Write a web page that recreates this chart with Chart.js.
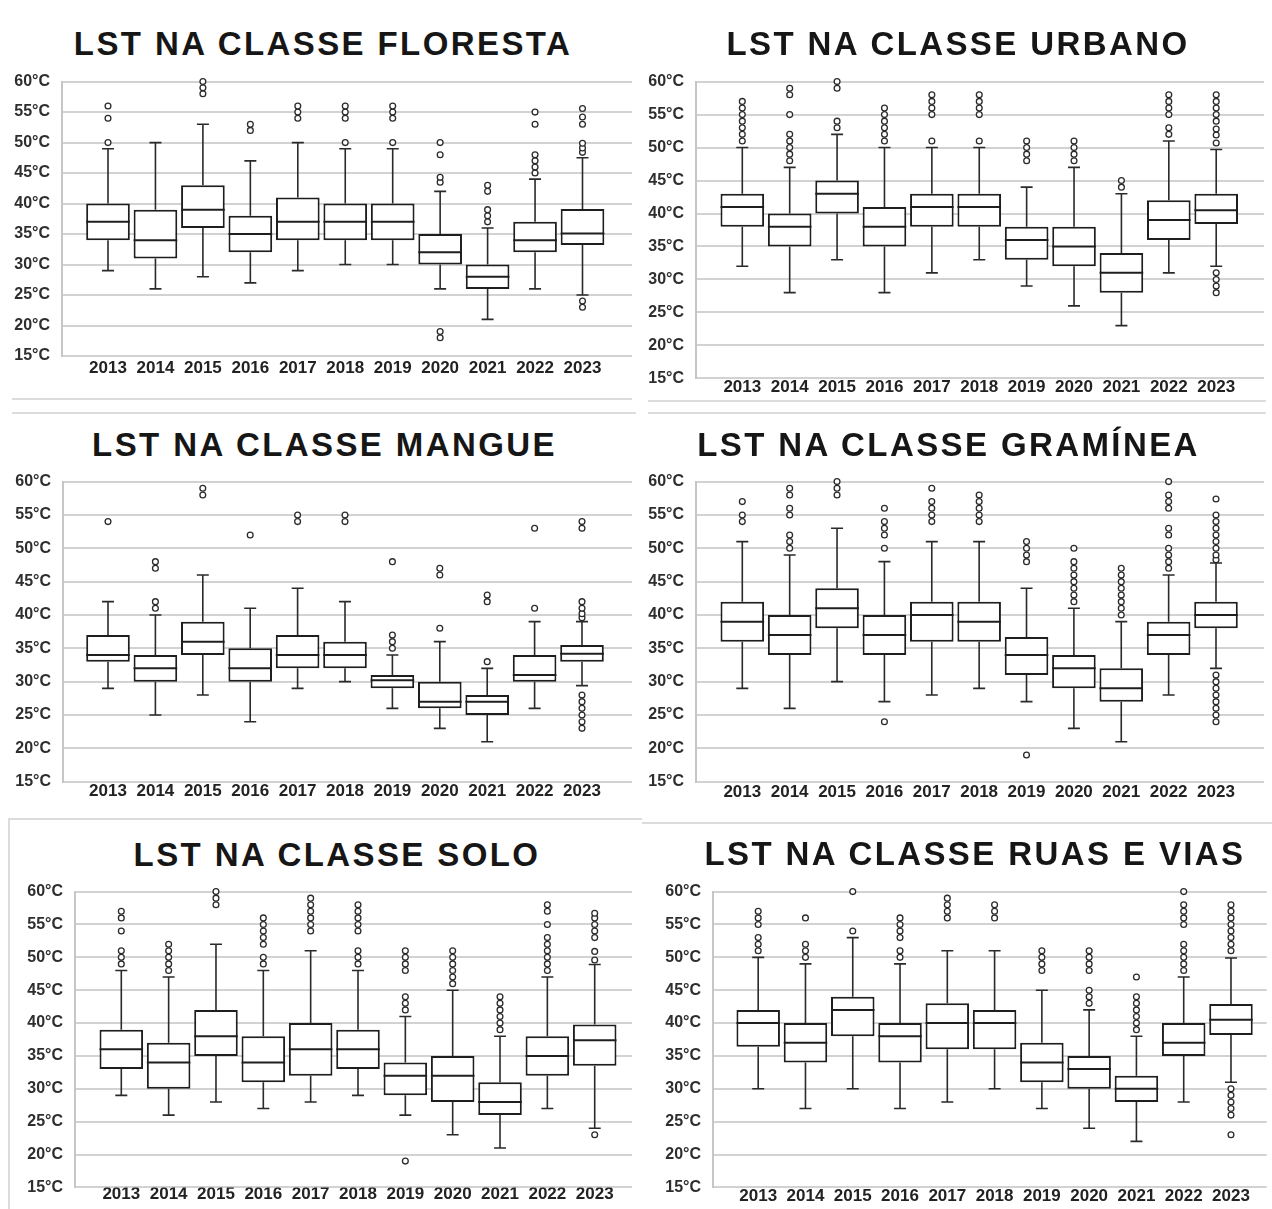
<!DOCTYPE html>
<html>
<head>
<meta charset="utf-8">
<script src="https://cdn.jsdelivr.net/npm/chart.js@4.4.1/dist/chart.umd.min.js"></script>
<style>
  html, body { margin: 0; padding: 0; background: #fff; }
  #page { position: relative; width: 1272px; height: 1209px; overflow: hidden; background: #fff; }
  .title {
    position: absolute; width: 700px; text-align: center;
    font: bold 33px "Liberation Sans", Arial, sans-serif;
    letter-spacing: 2.4px; line-height: 34px; color: #161616; white-space: nowrap;
  }
  .panel { position: absolute; }
  .rule { position: absolute; background: #dcdcdc; }
</style>
</head>
<body>
<div id="page"></div>
<script>
// Years on the horizontal axis
const years = ['2013', '2014', '2015', '2016', '2017', '2018', '2019', '2020', '2021', '2022', '2023'];

// Floresta
const florestaMin = [29, 26, 28, 27, 29, 30, 30, 26, 21, 26, 25];
const florestaQ1  = [34, 31, 36, 32, 34, 34, 34, 30, 26, 32, 33.2];
const florestaMed = [37, 34, 39, 35, 37, 37, 37, 32, 28, 34, 35.1];
const florestaQ3  = [40, 39, 43, 38, 41, 40, 40, 35, 30, 37, 39.1];
const florestaMax = [49, 50, 53, 47, 50, 49, 49, 42, 36, 44, 47.5];
const florestaOut = [
  [50, 54, 56], [], [58, 59, 60], [52, 53], [54, 55, 56], [50, 54, 55, 56], [50, 54, 55, 56],
  [18, 19, 43.5, 44.3, 48, 50], [37, 38, 39, 42, 43], [45, 46, 47, 48, 53, 55],
  [23, 24, 48.4, 49.1, 49.9, 53, 54.2, 55.6]
];

// Urbano
const urbanoMin = [32, 28, 33, 28, 31, 33, 29, 26, 23, 31, 32];
const urbanoQ1  = [38, 35, 40, 35, 38, 38, 33, 32, 28, 36, 38.4];
const urbanoMed = [41, 38, 43, 38, 41, 41, 36, 35, 31, 39, 40.5];
const urbanoQ3  = [43, 40, 45, 41, 43, 43, 38, 38, 34, 42, 43];
const urbanoMax = [50, 47, 52, 50, 50, 50, 44, 47, 43, 51, 49.7];
const urbanoOut = [
  [51, 52, 53, 54, 55, 56, 57], [48, 49, 50, 51, 52, 55, 58, 59], [53, 54, 59, 60],
  [51, 52, 53, 54, 55, 56], [51, 55, 56, 57, 58], [51, 55, 56, 57, 58], [48, 49, 50, 51],
  [48, 49, 50, 51], [44, 45], [52, 53, 55, 56, 57, 58],
  [28, 29, 30, 31, 50.7, 51.9, 52.8, 54, 55, 56, 57, 58]
];

// Mangue
const mangueMin = [29, 25, 28, 24, 29, 30, 26, 23, 21, 26, 29.4];
const mangueQ1  = [33, 30, 34, 30, 32, 32, 29, 26, 25, 30, 33];
const mangueMed = [34, 32, 36, 32, 34, 34, 30.2, 27, 27, 31, 34.2];
const mangueQ3  = [37, 34, 39, 35, 37, 36, 31, 30, 28, 34, 35.5];
const mangueMax = [42, 40, 46, 41, 44, 42, 34, 36, 32, 39, 39];
const mangueOut = [
  [54], [41, 42, 47, 48], [58, 59], [52], [54, 55], [54, 55], [35, 36, 37, 48],
  [38, 46, 47], [33, 42, 43], [41, 53],
  [23, 24, 25, 26, 27, 28, 39.6, 40.2, 41, 42, 53, 54]
];

// Gramínea
const gramineaMin = [29, 26, 30, 27, 28, 29, 27, 23, 21, 28, 32];
const gramineaQ1  = [36, 34, 38, 34, 36, 36, 31, 29, 27, 34, 38];
const gramineaMed = [39, 37, 41, 37, 40, 39, 34, 32, 29, 37, 40];
const gramineaQ3  = [42, 40, 44, 40, 42, 42, 36.7, 34, 32, 39, 42];
const gramineaMax = [51, 49, 53, 48, 51, 51, 44, 41, 39, 46, 47.8];
const gramineaOut = [
  [54, 55, 57], [50, 51, 52, 55, 56, 58, 59], [58, 59, 60], [24, 50, 52, 53, 54, 56],
  [54, 55, 56, 57, 59], [54, 55, 56, 57, 58], [19, 48, 49, 50, 51],
  [42, 43, 44, 45, 46, 47, 48, 50], [40, 41, 42, 43, 44, 45, 46, 47],
  [47, 48, 49, 50, 52, 53, 56, 57, 58, 60],
  [24, 25, 26, 27, 28, 29, 30, 31, 48.3, 49, 50, 51, 52, 53, 54, 55, 57.4]
];

// Solo
const soloMin = [29, 26, 28, 27, 28, 29, 26, 23, 21, 27, 24];
const soloQ1  = [33, 30, 35, 31, 32, 33, 29, 28, 26, 32, 33.5];
const soloMed = [36, 34, 38, 34, 36, 36, 32, 32, 28, 35, 37.4];
const soloQ3  = [39, 37, 42, 38, 40, 39, 34, 35, 31, 38, 39.8];
const soloMax = [48, 47, 52, 48, 51, 48, 41, 45, 38, 47, 48.9];
const soloOut = [
  [49, 50, 51, 54, 56, 57], [48, 49, 50, 51, 52], [58, 59, 60], [49, 50, 52, 53, 54, 55, 56],
  [54, 55, 56, 57, 58, 59], [49, 50, 51, 54, 55, 56, 57, 58], [19, 42, 43, 44, 48, 49, 50, 51],
  [46, 47, 48, 49, 50, 51], [39, 40, 41, 42, 43, 44], [48, 49, 50, 51, 52, 53, 55, 57, 58],
  [23, 49.6, 50.9, 53, 54, 55, 56, 56.7]
];

// Ruas e vias
const ruasMin = [30, 27, 30, 27, 28, 30, 27, 24, 22, 28, 31];
const ruasQ1  = [36.4, 34, 38, 34, 36, 36, 31, 30, 28, 35, 38.2];
const ruasMed = [40, 37, 42, 38, 40, 40, 34, 33, 30, 37, 40.5];
const ruasQ3  = [42, 40, 44, 40, 43, 42, 37, 35, 32, 40, 42.9];
const ruasMax = [50, 49, 53, 49, 51, 51, 45, 42, 38, 47, 49.9];
const ruasOut = [
  [51, 52, 53, 55, 56, 57], [50, 51, 52, 56], [54, 60], [50, 51, 53, 54, 55, 56],
  [56, 57, 58, 59], [56, 57, 58], [48, 49, 50, 51], [43, 44, 45, 48, 49, 50, 51],
  [39, 40, 41, 42, 43, 44, 47], [48, 49, 50, 51, 52, 55, 56, 57, 58, 60],
  [23, 26, 27, 28, 29, 30, 51, 52, 53, 54, 55, 56, 57, 58]
];

// Temperature axis ticks
const tempMin = 15, tempMax = 60, tempStep = 5;

const FONT = '"Liberation Sans", Arial, sans-serif';

// Whiskers (under the boxes) and medians (over the boxes)
function boxPlotPlugin(st) {
  return {
    id: 'boxWhiskers',
    beforeDatasetsDraw(chart) {
      const { ctx } = chart;
      const xs = chart.scales.x, ys = chart.scales.y;
      ctx.save();
      ctx.strokeStyle = '#2a2a2a';
      ctx.lineWidth = 1.6;
      st.min.forEach((_, i) => {
        const x = xs.getPixelForValue(i);
        const yMin = ys.getPixelForValue(st.min[i]);
        const yMax = ys.getPixelForValue(st.max[i]);
        const yQ1 = ys.getPixelForValue(st.q1[i]);
        const yQ3 = ys.getPixelForValue(st.q3[i]);
        ctx.beginPath();
        ctx.moveTo(x, yQ3); ctx.lineTo(x, yMax);
        ctx.moveTo(x, yQ1); ctx.lineTo(x, yMin);
        ctx.moveTo(x - 6, yMax); ctx.lineTo(x + 6, yMax);
        ctx.moveTo(x - 6, yMin); ctx.lineTo(x + 6, yMin);
        ctx.stroke();
      });
      ctx.restore();
    },
    afterDatasetsDraw(chart) {
      const { ctx } = chart;
      const ys = chart.scales.y;
      const bars = chart.getDatasetMeta(0).data;
      ctx.save();
      ctx.strokeStyle = '#1e1e1e';
      ctx.lineWidth = 2;
      bars.forEach((el, i) => {
        const y = ys.getPixelForValue(st.med[i]);
        ctx.beginPath();
        ctx.moveTo(el.x - el.width / 2, y);
        ctx.lineTo(el.x + el.width / 2, y);
        ctx.stroke();
      });
      ctx.restore();
    }
  };
}

function addRule(x, y, w, h) {
  const r = document.createElement('div');
  r.className = 'rule';
  r.style.left = x + 'px'; r.style.top = y + 'px';
  r.style.width = w + 'px'; r.style.height = h + 'px';
  document.getElementById('page').appendChild(r);
}

function drawPanel(p) {
  const page = document.getElementById('page');
  const t = document.createElement('div');
  t.className = 'title';
  t.textContent = p.title;
  t.style.left = (p.cx - 350 + 1) + 'px';
  t.style.top = (p.cy - 17) + 'px';
  page.appendChild(t);

  const [bx, by, bw, bh] = p.box;
  const wrap = document.createElement('div');
  wrap.className = 'panel';
  wrap.style.left = bx + 'px';
  wrap.style.top = by + 'px';
  wrap.style.width = bw + 'px';
  wrap.style.height = bh + 'px';
  const cv = document.createElement('canvas');
  cv.width = bw; cv.height = bh;
  cv.style.width = bw + 'px'; cv.style.height = bh + 'px';
  wrap.appendChild(cv);
  page.appendChild(wrap);

  const st = p.stats;
  const step = (p.c10 - p.c0) / 10;
  const xMin = -(p.c0 - p.axisLeft) / step;
  const xMax = 10 + (p.plotRight - p.c10) / step;

  const outliers = [];
  st.out.forEach((vals, i) => vals.forEach(v => outliers.push({ x: i, y: v })));

  new Chart(cv, {
    type: 'bar',
    data: {
      datasets: [
        {
          type: 'bar',
          data: years.map((_, i) => ({ x: i, y: [st.q1[i], st.q3[i]] })),
          backgroundColor: '#ffffff',
          borderColor: '#1e1e1e',
          borderWidth: 2,
          borderSkipped: false,
          barPercentage: 0.92,
          categoryPercentage: 1,
          order: 2
        },
        {
          type: 'scatter',
          data: outliers,
          clip: false,
          pointRadius: 2.9,
          pointBorderWidth: 1.3,
          pointBackgroundColor: '#ffffff',
          pointBorderColor: '#2a2a2a',
          order: 1
        }
      ]
    },
    options: {
      responsive: false,
      animation: false,
      layout: { padding: { top: p.plotTop - by, right: bx + bw - p.plotRight, left: 0, bottom: 0 } },
      plugins: { legend: { display: false }, tooltip: { enabled: false }, title: { display: false } },
      scales: {
        x: {
          type: 'linear',
          offset: false,
          min: xMin,
          max: xMax,
          afterFit: s => { s.height = by + bh - p.plotBottom; },
          grid: { display: false, drawTicks: false, offset: false },
          border: { display: false },
          ticks: {
            stepSize: 1,
            includeBounds: false,
            autoSkip: false,
            maxRotation: 0,
            padding: p.labelPad,
            color: '#222',
            font: { family: FONT, size: 17, weight: 'bold' },
            callback: v => (Number.isInteger(v) && years[v]) ? years[v] : ''
          }
        },
        y: {
          min: tempMin,
          max: tempMax,
          afterFit: s => { s.width = p.axisLeft - bx; },
          grid: { color: '#d2d2d2', lineWidth: 2, drawTicks: false },
          border: { display: true, color: '#c6c6c6', width: 2 },
          ticks: {
            stepSize: tempStep,
            padding: 12,
            color: '#2e2e2e',
            font: { family: FONT, size: 16, weight: 'bold' },
            callback: v => v + '°C'
          }
        }
      }
    },
    plugins: [boxPlotPlugin(st)]
  });
}

const pack = (min, q1, med, q3, max, out) => ({ min, q1, med, q3, max, out });

const panels = [
  { title: 'LST NA CLASSE FLORESTA', cx: 322, cy: 44, box: [0, 60, 640, 340],
    axisLeft: 62, plotTop: 77.3, plotBottom: 356, plotRight: 632, c0: 108, c10: 582.5, labelPad: 2.4,
    stats: pack(florestaMin, florestaQ1, florestaMed, florestaQ3, florestaMax, florestaOut) },
  { title: 'LST NA CLASSE URBANO', cx: 957, cy: 44, box: [640, 60, 632, 340],
    axisLeft: 696, plotTop: 77.3, plotBottom: 380, plotRight: 1264, c0: 742.3, c10: 1216.2, labelPad: -1,
    stats: pack(urbanoMin, urbanoQ1, urbanoMed, urbanoQ3, urbanoMax, urbanoOut) },
  { title: 'LST NA CLASSE MANGUE', cx: 323.5, cy: 445, box: [0, 460, 640, 345],
    axisLeft: 63, plotTop: 479.3, plotBottom: 781.7, plotRight: 632, c0: 108, c10: 582, labelPad: -1,
    stats: pack(mangueMin, mangueQ1, mangueMed, mangueQ3, mangueMax, mangueOut) },
  { title: 'LST NA CLASSE GRAMÍNEA', cx: 947.5, cy: 445, box: [640, 460, 632, 345],
    axisLeft: 696, plotTop: 479.3, plotBottom: 781.7, plotRight: 1264, c0: 742.3, c10: 1216, labelPad: 0,
    stats: pack(gramineaMin, gramineaQ1, gramineaMed, gramineaQ3, gramineaMax, gramineaOut) },
  { title: 'LST NA CLASSE SOLO', cx: 336, cy: 855, box: [0, 870, 640, 339],
    axisLeft: 75, plotTop: 888.3, plotBottom: 1191.7, plotRight: 632, c0: 121.3, c10: 594.7, labelPad: -3,
    stats: pack(soloMin, soloQ1, soloMed, soloQ3, soloMax, soloOut) },
  { title: 'LST NA CLASSE RUAS E VIAS', cx: 974, cy: 854, box: [640, 870, 632, 339],
    axisLeft: 713, plotTop: 887.7, plotBottom: 1190, plotRight: 1268, c0: 758.3, c10: 1232.2, labelPad: -1.5,
    stats: pack(ruasMin, ruasQ1, ruasMed, ruasQ3, ruasMax, ruasOut) }
];

// Thin frame lines separating the panels
addRule(12, 398, 620, 2);
addRule(12, 412, 624, 2);
addRule(648, 400, 618, 2);
addRule(648, 412, 618, 2);
addRule(8, 818, 634, 2);
addRule(8, 818, 2, 391);
addRule(642, 822, 630, 2);

panels.forEach(drawPanel);
</script>
</body>
</html>
